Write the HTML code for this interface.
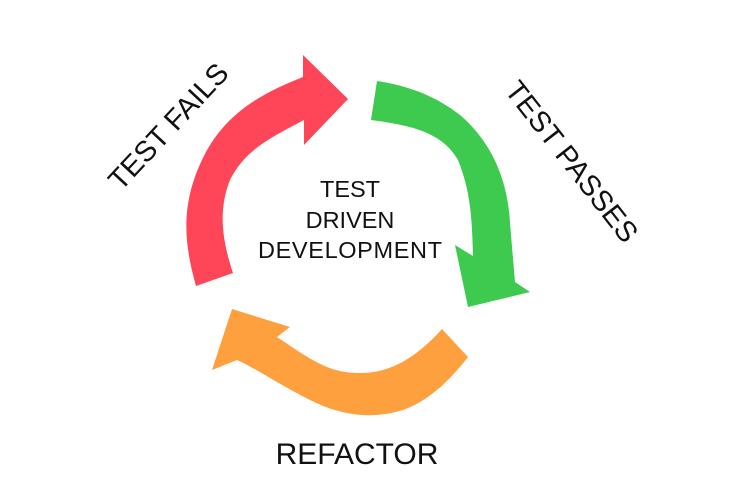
<!DOCTYPE html>
<html><head><style>
html,body{margin:0;padding:0;background:#fff;}
svg{display:block}
text{font-family:"Liberation Sans",sans-serif;fill:#111;}
</style></head><body>
<svg width="738" height="494" viewBox="0 0 738 494">
<path fill="#ff4659" d="M196,286 C183,240 180,200 207,150 C230,110 265,92 303,77 L303,55 L348,99 L304,145 L304,120 C270,138 245,150 230,180 C218,210 222,240 233,273 Z"/>
<path fill="#3ec94f" d="M377,81 C410,86 437,97 460,115 C495,145 508,185 510,223 L515,282 L530,292 L468,307 L455,245 L473,256 C472,215 470,190 458,160 C442,132 410,125 371,120 Z"/>
<path fill="#ffa03f" d="M468,357 C450,380 430,400 403,410 C370,420 340,415 310,400 C280,385 255,368 237,360 L212,370 L232,309 L290,327 L277,337 C300,352 320,368 345,372 C375,376 405,370 442,329 Z"/>
<text x="170" y="128" font-size="29" text-anchor="middle" dominant-baseline="middle" transform="rotate(-47 170 128)">TEST FAILS</text>
<text x="570" y="163" font-size="29" text-anchor="middle" dominant-baseline="middle" transform="rotate(52 570 163)">TEST PASSES</text>
<text x="357" y="464" font-size="30" text-anchor="middle">REFACTOR</text>
<text x="350" y="197" font-size="23.5" text-anchor="middle">TEST</text>
<text x="350" y="228" font-size="23.5" text-anchor="middle">DRIVEN</text>
<text x="350" y="258" font-size="23.5" text-anchor="middle" textLength="184">DEVELOPMENT</text>
</svg>
</body></html>
